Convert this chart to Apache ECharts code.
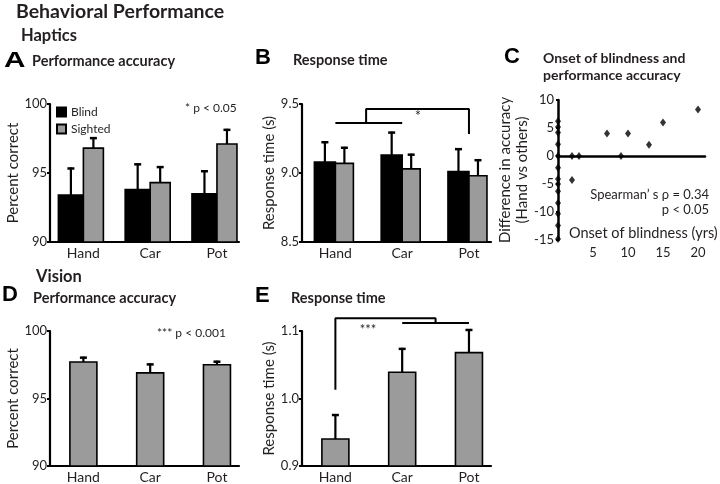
<!DOCTYPE html>
<html><head><meta charset="utf-8">
<script src="https://cdn.jsdelivr.net/npm/echarts@6/dist/echarts.min.js"></script>
<style>html,body{margin:0;padding:0;background:#fff}#c{width:720px;height:484px}</style>
</head><body><div id="c"></div>
<script>
const categories = ['Hand', 'Car', 'Pot'];
// Panel A: haptic performance accuracy (%)
const accBlind = [93.4, 93.8, 93.5];
const accBlindErr = [95.4, 95.7, 95.2];
const accSighted = [96.8, 94.3, 97.1];
const accSightedErr = [97.6, 95.5, 98.2];
// Panel B: haptic response time (s)
const rtBlind = [9.08, 9.13, 9.01];
const rtBlindErr = [9.23, 9.30, 9.18];
const rtSighted = [9.07, 9.03, 8.98];
const rtSightedErr = [9.19, 9.14, 9.10];
// Panel C: onset of blindness vs accuracy difference
const onsetYears = [0, 0, 0, 0, 0, 0, 0, 0, 0, 0, 0, 0, 0, 2, 2, 3, 7, 9, 10, 13, 15, 20];
const accDiff = [6.2, 5.2, 4.2, 2.1, 0, -2.1, -4.1, -5, -6.3, -8.4, -10.3, -12.4, -14.8, 0, -4.3, 0, 4, 0, 4, 2, 6, 8.3];
// Panel D: vision performance accuracy (%)
const visAcc = [97.7, 96.9, 97.5];
const visAccErr = [98.1, 97.6, 97.8];
// Panel E: vision response time (s)
const visRt = [0.940, 1.039, 1.068];
const visRtErr = [0.977, 1.075, 1.103];
// significance brackets [categoryPosition, value]
const bracketB1 = [[0, 9.362], [1, 9.362]];
const bracketB2 = [[0.46, 9.362], [0.46, 9.464], [2, 9.464], [2, 9.283]];
const bracketE1 = [[0, 1.013], [0, 1.119], [1.5, 1.119], [1.5, 1.112]];
const bracketE2 = [[1, 1.112], [2, 1.112]];

const TXT = '#231f20';
const FONT = 'Lato';
const GRAY = '#9b9b9b';

function barSeries(name, gi, vals, errs, yMin, offL, offR, fill) {
  return {
    type: 'custom', name: name, xAxisIndex: gi, yAxisIndex: gi, clip: false,
    itemStyle: { color: fill, borderColor: '#000', borderWidth: 1 },
    data: vals.map((v, i) => [i, v, errs[i]]),
    renderItem: function (params, api) {
      const x = api.value(0), v = api.value(1), e = api.value(2);
      const top = api.coord([x, v]);
      const bot = api.coord([x, yMin]);
      const err = api.coord([x, e]);
      const l = top[0] + offL, r = top[0] + offR;
      const cx = (l + r) / 2;
      return {
        type: 'group', children: [
          { type: 'line', shape: { x1: cx, y1: top[1], x2: cx, y2: err[1] }, style: { stroke: '#000', lineWidth: 2.2 } },
          { type: 'line', shape: { x1: cx - 3.5, y1: err[1] + 1, x2: cx + 3.5, y2: err[1] + 1 }, style: { stroke: '#000', lineWidth: 2.5 } },
          { type: 'rect', shape: { x: l, y: top[1], width: r - l, height: bot[1] - top[1] }, style: { fill: fill, stroke: '#000', lineWidth: 1.6 } }
        ]
      };
    }
  };
}

function lineSeries(gi, data) {
  return { type: 'line', xAxisIndex: gi, yAxisIndex: gi, data: data, symbol: 'none', clip: false,
    lineStyle: { color: '#000', width: 2 }, silent: true };
}

function catX(gi) {
  return {
    type: 'value', gridIndex: gi, min: -0.5, max: 2.33,
    axisLine: { show: true, onZero: false, lineStyle: { color: '#000', width: 2.2 } },
    axisTick: { show: false }, splitLine: { show: false },
    axisLabel: { customValues: [0, 1, 2], formatter: v => categories[Math.round(v)], fontSize: 14, color: TXT, fontFamily: FONT, margin: 4 }
  };
}
function valY(gi, min, max, interval, name, fmt) {
  return {
    type: 'value', gridIndex: gi, min: min, max: max, interval: interval,
    name: name, nameLocation: 'middle', nameGap: 22, nameTextStyle: { fontSize: 15, color: TXT, fontFamily: FONT },
    axisLine: { show: true, onZero: false, lineStyle: { color: '#000', width: 2.2 } },
    axisTick: { show: true, length: 3, lineStyle: { color: '#000', width: 2 } },
    splitLine: { show: false },
    axisLabel: { fontSize: 13, color: TXT, fontFamily: FONT, margin: 3, formatter: fmt }
  };
}

function txt(x, y, s, size, bold, extra) {
  return { type: 'text', x: x, y: y, style: Object.assign({ text: s, fill: TXT, font: (bold ? 'bold ' : '') + size + 'px ' + FONT, textVerticalAlign: 'middle' }, extra || {}) };
}
function letter(x, y, s, sx) {
  return { type: 'text', x: x, y: y, scaleX: sx || 1, style: { text: s, fill: '#000', font: 'bold 22px "Liberation Sans"', textVerticalAlign: 'middle' } };
}

const chart = echarts.init(document.getElementById('c'), null, { renderer: 'canvas' });
chart.setOption({
  backgroundColor: '#fff',
  animation: false,
  textStyle: { fontFamily: FONT },
  grid: [
    { left: 50, top: 104, width: 189, height: 138 },
    { left: 302, top: 104, width: 189, height: 138 },
    { left: 558, top: 100, width: 147, height: 140 },
    { left: 50, top: 331, width: 189, height: 138 },
    { left: 302, top: 331, width: 189, height: 138 }
  ],
  legend: {
    data: ['Blind', 'Sighted'], orient: 'vertical', left: 56, top: 106, itemGap: 5,
    icon: 'rect', itemWidth: 9, itemHeight: 9, padding: 0,
    textStyle: { fontSize: 12, color: TXT, fontFamily: FONT }
  },
  xAxis: [
    catX(0), catX(1),
    {
      type: 'value', gridIndex: 2, min: 0, max: 21,
      axisLine: { show: true, onZero: true, lineStyle: { color: '#000', width: 2.5 } },
      axisTick: { show: false }, splitLine: { show: false },
      axisLabel: { customValues: [5, 10, 15, 20], fontSize: 13, color: TXT, fontFamily: FONT, margin: 6 }
    },
    catX(3), catX(4)
  ],
  yAxis: [
    valY(0, 90, 100, 5, 'Percent correct'),
    valY(1, 8.5, 9.5, 0.5, 'Response time (s)', v => v.toFixed(1)),
    {
      type: 'value', gridIndex: 2, min: -15, max: 10, interval: 5,
      name: 'Difference in accuracy\n(Hand vs others)', nameLocation: 'middle', nameGap: 22,
      nameTextStyle: { fontSize: 15, color: TXT, fontFamily: FONT, lineHeight: 17 },
      axisLine: { show: true, onZero: false, lineStyle: { color: '#000', width: 2.5 } },
      axisTick: { show: true, length: 2, lineStyle: { color: '#000', width: 2 } },
      splitLine: { show: false },
      axisLabel: { fontSize: 13, color: TXT, fontFamily: FONT, margin: 4 }
    },
    valY(3, 90, 100, 5, 'Percent correct'),
    valY(4, 0.9, 1.1, 0.1, 'Response time (s)', v => v.toFixed(1))
  ],
  series: [
    barSeries('Blind', 0, accBlind, accBlindErr, 90, -25, 0, '#000'),
    barSeries('Sighted', 0, accSighted, accSightedErr, 90, 0, 20, GRAY),
    barSeries('Blind', 1, rtBlind, rtBlindErr, 8.5, -21, 0, '#000'),
    barSeries('Sighted', 1, rtSighted, rtSightedErr, 8.5, 0, 18, GRAY),
    {
      type: 'scatter', xAxisIndex: 2, yAxisIndex: 2, symbol: 'diamond', symbolSize: [6, 8], clip: false,
      itemStyle: { color: '#000' }, data: onsetYears.map((x, i) => [x, accDiff[i]])
    },
    barSeries('Vision', 3, visAcc, visAccErr, 90, -13.5, 13.5, GRAY),
    barSeries('Vision', 4, visRt, visRtErr, 0.9, -13.5, 13.5, GRAY),
    lineSeries(1, bracketB1), lineSeries(1, bracketB2),
    lineSeries(4, bracketE1), lineSeries(4, bracketE2)
  ],
  graphic: [
    txt(16, 12, 'Behavioral Performance', 19.5, true),
    txt(21, 36, 'Haptics', 16.5, true),
    letter(4, 61, 'A', 1.35), txt(32, 61, 'Performance accuracy', 14.5, true),
    letter(255, 58, 'B'), txt(293, 60, 'Response time', 14.5, true),
    letter(504, 57, 'C'), txt(543, 58, 'Onset of blindness and', 14, true), txt(543, 75, 'performance accuracy', 14, true),
    txt(36, 277, 'Vision', 16.5, true),
    letter(2, 295, 'D'), txt(33, 298, 'Performance accuracy', 14.5, true),
    letter(255, 296, 'E'), txt(291, 298, 'Response time', 14.5, true),
    txt(185, 108, '* p < 0.05', 12, false),
    txt(157, 333, '*** p < 0.001', 12, false),
    txt(418, 116, '*', 15, false, { textAlign: 'center' }),
    txt(368, 330, '***', 13, false, { textAlign: 'center' }),
    txt(709, 195, 'Spearman\u2019 s \u03c1 = 0.34', 13, false, { textAlign: 'right' }),
    txt(709, 210, 'p < 0.05', 13, false, { textAlign: 'right' }),
    txt(569, 233, 'Onset of blindness (yrs)', 14.5, false)
  ]
});
</script></body></html>
